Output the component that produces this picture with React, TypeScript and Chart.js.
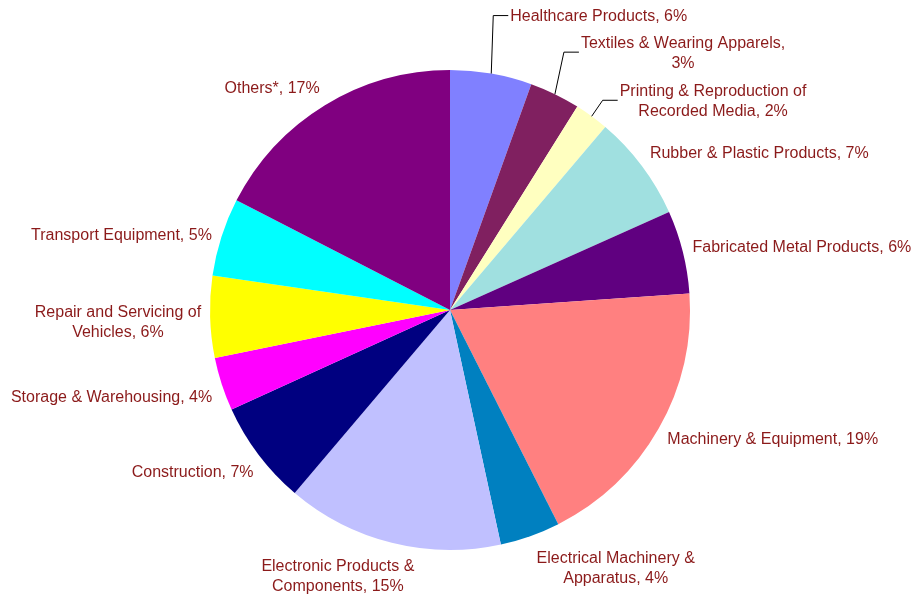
import React, { useEffect, useRef } from "react";
import { Chart, registerables } from "chart.js";

Chart.register(...registerables);

const categories = [
  "Healthcare Products",
  "Textiles & Wearing Apparels",
  "Printing & Reproduction of\nRecorded Media",
  "Rubber & Plastic Products",
  "Fabricated Metal Products",
  "Machinery & Equipment",
  "Electrical Machinery &\nApparatus",
  "Electronic Products &\nComponents",
  "Construction",
  "Storage & Warehousing",
  "Repair and Servicing of\nVehicles",
  "Transport Equipment",
  "Others*",
];

const shares = [5.5, 3.4, 2.3, 7.1, 5.6, 18.65, 4.05, 14.6, 7.0, 3.6, 5.5, 5.25, 17.45];

const sliceColors = [
  "#8080FF",
  "#802060",
  "#FFFFC0",
  "#A0E0E0",
  "#600080",
  "#FF8080",
  "#0080C0",
  "#C0C0FF",
  "#000080",
  "#FF00FF",
  "#FFFF00",
  "#00FFFF",
  "#800080",
];

// categories whose percentage sits on its own line
const percentOnNewLine = [1];

// layout: labels pulled out with leader lines (elbow offset from slice edge)
const leaderOffsets: Record<number, [number, number]> = {
  0: [2, -58],
  1: [9, -42],
  2: [11, -16],
};
// layout: small nudges of auto-placed labels
const labelNudges: Record<number, [number, number]> = {
  3: [0, 0],
  4: [0, 1],
  5: [0, 1],
  6: [3, 4],
  7: [25, 5],
  8: [3, 6],
  9: [0, 7],
  10: [1, 5],
  11: [0, 5],
};

const FONT = '16px "Liberation Sans", Arial, sans-serif';
const LH = 20;
const TEXT_COLOR = "#8B1A1A";

const labelPlugin = {
  id: "outsideLabels",
  afterDraw(chart: any) {
    const ctx = chart.ctx as CanvasRenderingContext2D;
    const meta = chart.getDatasetMeta(0);
    const total = shares.reduce((a, b) => a + b, 0);
    ctx.save();
    ctx.font = FONT;
    ctx.fillStyle = TEXT_COLOR;
    ctx.textBaseline = "middle";
    ctx.textAlign = "center";
    meta.data.forEach((arc: any, i: number) => {
      const p = arc.getProps(["x", "y", "startAngle", "endAngle", "outerRadius"], true);
      const mid = (p.startAngle + p.endAngle) / 2;
      const dx = Math.cos(mid);
      const dy = Math.sin(mid);
      const pct = Math.round((shares[i] / total) * 100);
      const sep = percentOnNewLine.includes(i) ? ",\n" : ", ";
      const lines = (categories[i] + sep + pct + "%").split("\n");
      const w = Math.max(...lines.map((l) => ctx.measureText(l).width));
      const h = lines.length * LH;
      let left: number;
      let cy: number;
      const lead = leaderOffsets[i];
      if (lead) {
        const px = p.x + p.outerRadius * dx;
        const py = p.y + p.outerRadius * dy;
        const ex = px + lead[0];
        const ey = py + lead[1];
        ctx.save();
        ctx.strokeStyle = "#000000";
        ctx.lineWidth = 1;
        ctx.beginPath();
        ctx.moveTo(px, py);
        ctx.lineTo(ex, ey);
        ctx.lineTo(ex + 15, ey);
        ctx.stroke();
        ctx.restore();
        left = ex + 17;
        cy = ey + 1;
      } else {
        const ax = p.x + (p.outerRadius + 10) * dx;
        const ay = p.y + (p.outerRadius + 10) * dy;
        left = dx >= 0 ? ax : ax - w;
        cy = ay + (dy * h) / 2;
        const n = labelNudges[i];
        if (n) {
          left += n[0];
          cy += n[1];
        }
      }
      lines.forEach((l, k) => {
        ctx.fillText(l, left + w / 2, cy - h / 2 + LH * (k + 0.5));
      });
    });
    ctx.restore();
  },
};

export default function App() {
  const ref = useRef<HTMLCanvasElement>(null);
  useEffect(() => {
    if (!ref.current) return;
    const chart = new Chart(ref.current, {
      type: "pie",
      data: {
        labels: categories.map((c) => c.replace("\n", " ")),
        datasets: [
          {
            data: shares,
            backgroundColor: sliceColors,
            borderWidth: 0,
          },
        ],
      },
      options: {
        responsive: false,
        animation: false,
        layout: { padding: { left: 210, right: 225, top: 70, bottom: 44 } },
        plugins: {
          legend: { display: false },
          tooltip: { enabled: false },
        },
      },
      plugins: [labelPlugin],
    });
    return () => chart.destroy();
  }, []);
  return (
    <div style={{ position: "fixed", left: 0, top: 0, width: 915, height: 594, background: "#fff" }}>
      <canvas ref={ref} width={915} height={594} style={{ display: "block" }} />
    </div>
  );
}
